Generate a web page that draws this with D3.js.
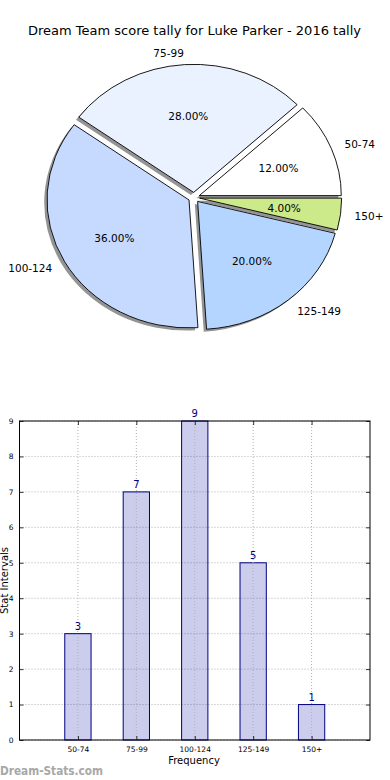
<!DOCTYPE html>
<html><head><meta charset="utf-8">
<script src="https://cdn.jsdelivr.net/npm/d3@7"></script>
<style>html,body{margin:0;padding:0;background:#fff}svg{display:block}text{font-family:"DejaVu Sans",sans-serif}</style>
</head><body>
<script>
const categories = ["50-74","75-99","100-124","125-149","150+"];
const percents = [12, 28, 36, 20, 4];
const counts = [3, 7, 9, 5, 1];
const yTicks = [0,1,2,3,4,5,6,7,8,9];
const sliceColors = ["#ffffff","#eaf2ff","#c6d9ff","#b4d5ff","#cdea8a"];
const title = "Dream Team score tally for Luke Parker - 2016 tally";

const W=390,H=780;
const svg=d3.select("body").append("svg").attr("width",W).attr("height",H);

svg.append("text").attr("x",194.5).attr("y",34.5).attr("text-anchor","middle")
  .attr("font-size",13).attr("fill","#000").text(title);

// pie
const cx=194, cy=197.5, rx=142, ry=128, explode=0.04;
const pie=d3.pie().sort(null).startAngle(Math.PI/2).endAngle(Math.PI/2-2*Math.PI);
const arcs=pie(percents);
const arc=d3.arc().innerRadius(0).outerRadius(1);
const g=svg.append("g");
function off(a,k){return [cx+Math.sin(a)*k*rx, cy-Math.cos(a)*k*ry];}
arcs.forEach((d,i)=>{
  const m=(d.startAngle+d.endAngle)/2;
  const [x,y]=off(m,explode);
  g.append("path").attr("d",arc(d))
   .attr("transform",`translate(${x-2.8},${y+2.6}) scale(${rx},${ry})`)
   .attr("fill","#4d4d4d").attr("opacity",0.6);
});
arcs.forEach((d,i)=>{
  const m=(d.startAngle+d.endAngle)/2;
  const [x,y]=off(m,explode);
  g.append("path").attr("d",arc(d))
   .attr("transform",`translate(${x},${y}) scale(${rx},${ry})`)
   .attr("fill",sliceColors[i]).attr("stroke","#000").attr("stroke-width",0.9)
   .attr("vector-effect","non-scaling-stroke");
});
arcs.forEach((d,i)=>{
  const m=(d.startAngle+d.endAngle)/2;
  const [lx,ly]=off(m,explode+1.1);
  g.append("text").attr("x",lx).attr("y",ly+1).attr("dy","0.35em")
   .attr("text-anchor",Math.sin(m)>0?"start":"end").attr("font-size",10.5).text(categories[i]);
  const [px,py]=off(m,explode+0.6);
  g.append("text").attr("x",px).attr("y",py+1).attr("dy","0.35em")
   .attr("text-anchor","middle").attr("font-size",10.5).text(percents[i].toFixed(2)+"%");
});

// bars
const L=19.5,R=370,T=421,B=740;
const x=d3.scaleLinear().domain([0,categories.length+1]).range([L,R]);
const y=d3.scaleLinear().domain([0,9]).range([B,T]);
const bg=svg.append("g");
bg.selectAll(".gy").data(yTicks).join("line")
  .attr("x1",L).attr("x2",R).attr("y1",d=>y(d)).attr("y2",d=>y(d))
  .attr("stroke","#b0b0b0").attr("stroke-width",1).attr("stroke-dasharray","1,2");
const bw=0.45;
bg.selectAll(".bar").data(counts).join("rect")
  .attr("x",(d,i)=>x(i+1-bw/2)).attr("width",x(bw)-x(0))
  .attr("y",d=>y(d)).attr("height",d=>B-y(d))
  .attr("fill","#0000a0").attr("fill-opacity",0.2).attr("stroke","#000080").attr("stroke-width",1);
bg.selectAll(".gx").data(categories).join("line")
  .attr("x1",(d,i)=>x(i+1)).attr("x2",(d,i)=>x(i+1)).attr("y1",T).attr("y2",B)
  .attr("stroke","#b0b0b0").attr("stroke-width",1).attr("stroke-dasharray","1,2");
bg.selectAll(".val").data(counts).join("text")
  .attr("x",(d,i)=>x(i+1)).attr("y",d=>y(d)-4).attr("text-anchor","middle")
  .attr("font-size",10).attr("fill","#000080").text(d=>d);
const ya=d3.axisLeft(y).tickValues(yTicks).tickSize(-4).tickPadding(6).tickFormat(d3.format("d"));
const yr=d3.axisRight(y).tickValues(yTicks).tickSize(-4).tickFormat("");
const xa=d3.axisBottom(x).tickValues(categories.map((c,i)=>i+1)).tickSize(-4).tickPadding(7).tickFormat((d)=>categories[d-1]);
const xt=d3.axisTop(x).tickValues(categories.map((c,i)=>i+1)).tickSize(-4).tickFormat("");
[[ya,`translate(${L},0)`],[yr,`translate(${R},0)`],[xa,`translate(0,${B})`],[xt,`translate(0,${T})`]].forEach(([a,t])=>{
  const gg=bg.append("g").attr("transform",t).call(a);
  gg.select(".domain").remove();
  gg.selectAll("line").attr("stroke","#000").attr("stroke-width",0.8);
  gg.selectAll("text").attr("font-size",7.5).attr("fill","#000").attr("font-family","DejaVu Sans");
});
bg.append("rect").attr("x",L).attr("y",T).attr("width",R-L).attr("height",B-T)
  .attr("fill","none").attr("stroke","#000").attr("stroke-width",1);
bg.append("text").attr("x",194).attr("y",764).attr("text-anchor","middle").attr("font-size",10).text("Frequency");
bg.append("text").attr("transform",`translate(8,${(T+B)/2}) rotate(-90)`).attr("text-anchor","middle")
  .attr("font-size",10).text("Stat Intervals");
svg.append("text").attr("x",0).attr("y",775).attr("font-size",12).attr("font-weight","bold")
  .attr("fill","#a8a8a8").attr("textLength",103).attr("lengthAdjust","spacingAndGlyphs").text("Dream-Stats.com");
</script>
</body></html>
